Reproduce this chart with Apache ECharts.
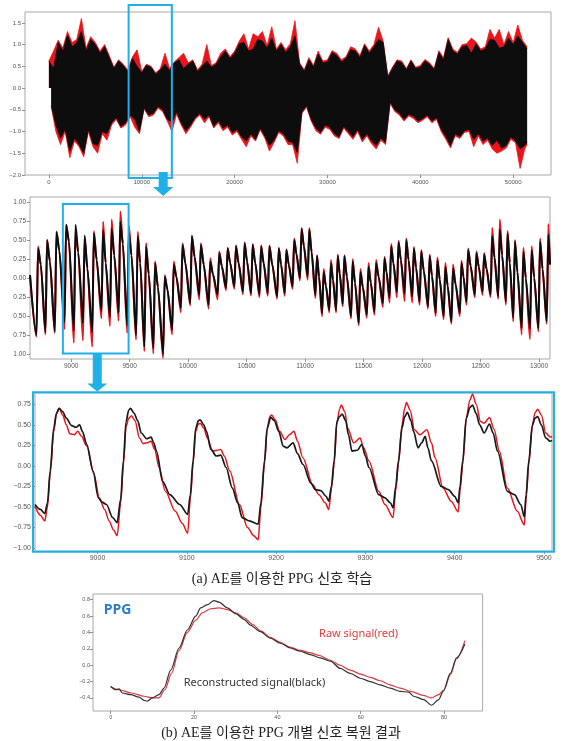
<!DOCTYPE html>
<html><head><meta charset="utf-8">
<script src="https://cdn.jsdelivr.net/npm/echarts@6/dist/echarts.min.js"></script>
<style>html,body{margin:0;padding:0;background:#fff}#c{width:568px;height:741px}</style>
</head><body><div id="c"></div>
<script>
// ---------- Panel 1: full recording, envelope per 500-sample bin ----------
const p1Step = 500;
const p1End = 51500;
const p1BlackHi = [0.62,0.45,1.05,0.85,1.22,0.95,1.05,1.30,0.85,1.12,1.00,0.80,0.95,0.70,0.45,0.62,0.52,0.38,0.68,0.50,
  0.35,0.52,0.48,0.32,0.42,0.55,0.40,0.58,0.65,0.45,0.55,0.62,0.38,0.50,0.62,0.48,0.55,0.72,0.85,0.68,
  0.80,1.02,1.05,0.85,0.90,1.12,1.08,0.92,1.15,0.85,1.00,0.82,0.95,1.20,0.55,0.38,0.65,0.48,0.78,0.58,
  0.60,0.82,0.75,0.60,0.68,0.88,0.85,0.70,0.98,0.80,0.95,1.12,1.05,0.25,0.45,0.62,0.58,0.42,0.62,0.45,
  0.48,0.62,0.55,0.42,0.82,0.65,1.12,0.85,0.78,0.95,0.98,0.80,1.02,0.85,0.90,1.12,1.10,0.92,0.95,1.15,
  1.00,1.20,1.05,0.90];
const p1BlackLo = [-0.40,-0.85,-1.15,-0.95,-1.45,-1.15,-1.30,-1.50,-0.95,-1.28,-1.32,-1.00,-1.05,-0.80,-0.68,-0.88,-0.80,-0.62,-0.72,-1.00,
  -0.45,-0.62,-0.58,-0.42,-0.50,-0.72,-0.78,-0.55,-0.80,-0.98,-0.85,-0.68,-0.58,-0.72,-0.62,-0.88,-0.75,-0.92,-0.85,-1.02,
  -0.95,-1.12,-1.22,-1.05,-1.18,-0.92,-1.10,-1.32,-1.20,-0.98,-1.05,-1.22,-1.25,-1.48,-0.55,-0.40,-0.72,-0.92,-1.02,-0.85,
  -0.90,-1.05,-1.12,-0.88,-1.00,-1.12,-0.95,-1.18,-1.05,-1.22,-1.32,-1.15,-1.25,-0.32,-0.50,-0.58,-0.72,-0.60,-0.65,-0.76,
  -0.70,-0.62,-0.76,-0.68,-0.95,-1.12,-1.32,-1.05,-1.12,-0.98,-0.95,-1.18,-1.05,-1.22,-1.15,-1.32,-1.20,-1.38,-1.32,-1.12,
  -1.22,-1.40,-1.32,-1.25];
const p1RedHi = [0.62,0.85,1.10,0.92,1.30,1.05,1.12,1.60,0.92,1.18,1.05,0.85,1.00,0.75,0.48,0.65,0.55,0.42,0.72,0.88,
  0.38,0.55,0.50,0.35,0.45,0.80,0.45,0.60,0.70,0.80,0.58,0.65,0.42,0.55,1.00,0.52,0.58,0.80,0.90,0.72,
  0.85,1.08,1.25,0.90,1.25,1.18,1.30,0.98,1.41,0.90,1.05,0.88,1.02,1.55,0.58,0.42,0.70,0.52,0.85,0.62,
  0.65,0.86,0.80,0.65,0.72,0.95,0.90,0.75,1.02,0.85,1.00,1.40,1.08,0.28,0.48,0.65,0.62,0.45,0.65,0.48,
  0.52,0.66,0.58,0.45,0.86,0.70,1.16,0.90,0.82,1.00,1.02,1.15,1.06,0.90,0.95,1.35,1.15,1.35,1.00,1.30,
  1.05,1.45,1.10,0.95];
const p1RedLo = [-0.42,-1.00,-1.30,-1.00,-1.60,-1.22,-1.35,-1.58,-1.00,-1.35,-1.50,-1.05,-1.20,-0.85,-0.72,-0.92,-0.85,-0.66,-0.90,-1.05,
  -0.48,-0.66,-0.62,-0.46,-0.54,-0.76,-1.00,-0.60,-0.85,-1.05,-0.90,-0.72,-0.62,-0.80,-0.66,-0.92,-0.80,-0.98,-0.90,-1.08,
  -1.00,-1.18,-1.35,-1.10,-1.22,-0.96,-1.15,-1.45,-1.25,-1.02,-1.10,-1.30,-1.30,-1.73,-0.58,-0.44,-0.76,-0.98,-1.06,-0.90,
  -0.95,-1.10,-1.16,-0.92,-1.05,-1.18,-1.00,-1.24,-1.10,-1.28,-1.40,-1.20,-1.30,-0.35,-0.54,-0.62,-0.76,-0.64,-0.70,-0.80,
  -0.74,-0.66,-0.80,-0.72,-1.00,-1.18,-1.38,-1.10,-1.16,-1.02,-1.00,-1.35,-1.10,-1.30,-1.20,-1.40,-1.50,-1.45,-1.38,-1.18,
  -1.26,-1.85,-1.40,-1.30];
const p1XTicks = [0,10000,20000,30000,40000,50000];
const p1YTicks = [-2.0,-1.5,-1.0,-0.5,0.0,0.5,1.0,1.5];

// ---------- Panel 2: zoom 8650-13100, one entry per beat ----------
const p2Start = [8648, 0.04];
const p2End = [13094, 0.18];
const p2PeakT = [8717,8794,8874,8957,9037,9115,9194,9273,9346,9420,9493,9569,9640,9717,9800,9877,9952,10032,10109,10189,
  10266,10338,10409,10483,10552,10624,10695,10775,10840,10907,10970,11036,11102,11159,11221,11279,11336,11407,11473,11542,
  11607,11679,11736,11799,11865,11930,11993,12065,12131,12199,12265,12337,12394,12465,12531,12600,12665,12731,12794,12866,
  12937,13009,13080];
const p2PeakBlack = [0.39,0.50,0.61,0.70,0.70,0.56,0.59,0.63,0.65,0.74,0.60,0.55,0.42,0.20,0.02,0.18,0.44,0.55,0.44,0.22,
  0.33,0.39,0.42,0.46,0.44,0.42,0.42,0.39,0.37,0.50,0.65,0.64,0.29,0.08,0.20,0.29,0.29,0.22,0.08,0.15,
  0.20,0.26,0.42,0.47,0.50,0.39,0.35,0.29,0.24,0.15,0.13,0.20,0.37,0.33,0.31,0.55,0.64,0.59,0.48,0.35,
  0.37,0.48,0.57];
const p2PeakRed = [0.42,0.50,0.61,0.70,0.61,0.52,0.62,0.74,0.77,0.875,0.69,0.61,0.46,0.22,0.04,0.22,0.46,0.56,0.46,0.26,
  0.35,0.40,0.43,0.47,0.45,0.43,0.43,0.40,0.38,0.52,0.66,0.66,0.30,0.12,0.24,0.31,0.30,0.25,0.12,0.20,
  0.24,0.28,0.45,0.49,0.52,0.41,0.37,0.31,0.27,0.20,0.18,0.23,0.39,0.35,0.33,0.66,0.77,0.62,0.50,0.40,
  0.42,0.52,0.71];
const p2TroughBlack = [-0.75,-0.71,-0.70,-0.58,-0.69,-0.59,-0.71,-0.43,-0.51,-0.45,-0.62,-0.75,-0.90,-0.92,-1.00,-0.68,-0.39,-0.33,-0.22,-0.35,
  -0.22,-0.13,-0.11,-0.18,-0.20,-0.22,-0.20,-0.24,-0.20,-0.11,0.00,0.02,-0.22,-0.46,-0.42,-0.42,-0.34,-0.50,-0.59,-0.48,
  -0.44,-0.33,-0.26,-0.18,-0.20,-0.24,-0.31,-0.37,-0.46,-0.50,-0.57,-0.46,-0.31,-0.22,-0.18,-0.22,-0.24,-0.31,-0.52,-0.66,
  -0.66,-0.66,-0.57];
const p2TroughRed = [-0.77,-0.74,-0.72,-0.67,-0.85,-0.82,-0.90,-0.53,-0.63,-0.56,-0.72,-0.81,-0.96,-0.99,-1.05,-0.74,-0.45,-0.36,-0.28,-0.40,
  -0.28,-0.16,-0.14,-0.21,-0.23,-0.25,-0.23,-0.27,-0.23,-0.14,-0.03,-0.02,-0.26,-0.50,-0.45,-0.45,-0.37,-0.53,-0.62,-0.52,
  -0.48,-0.38,-0.32,-0.25,-0.30,-0.32,-0.35,-0.40,-0.50,-0.54,-0.60,-0.50,-0.35,-0.25,-0.22,-0.25,-0.27,-0.35,-0.57,-0.74,
  -0.80,-0.70,-0.60];
const p2Shoulder = [0.18,0.22,0.36,0.48,0.34,0.13,0.24,0.20,0.30,0.45,0.30,0.20,0.05,-0.12,-0.15,0.02,0.20,0.28,0.18,0.05,
  0.16,0.20,0.20,0.22,0.20,0.20,0.18,0.18,0.18,0.32,0.42,0.34,0.02,-0.10,-0.02,0.06,0.02,-0.06,-0.12,-0.06,
  0.02,0.08,0.20,0.24,0.24,0.14,0.10,0.03,-0.02,-0.10,-0.08,0.02,0.16,0.15,0.12,0.27,0.30,0.20,0.08,0.00,
  0.01,0.12];
const p2XTicks = [9000,9500,10000,10500,11000,11500,12000,12500,13000];
const p2YTicks = [-1.0,-0.75,-0.5,-0.25,0.0,0.25,0.5,0.75,1.0];

// ---------- Panel 3: zoom 8930-9510 ----------
const p3Black = [[8930,-0.47],[8936,-0.53],[8941,-0.58],[8944,-0.45],[8947,-0.06],[8951,0.46],[8954,0.64],[8957,0.70],[8961,0.66],[8965,0.58],
  [8971,0.49],[8976,0.47],[8980,0.50],[8983,0.42],[8988,0.26],[8995,-0.06],[9001,-0.39],[9005,-0.44],[9010,-0.47],[9017,-0.63],
  [9022,-0.69],[9026,-0.40],[9029,0.06],[9032,0.54],[9035,0.68],[9037,0.70],[9041,0.64],[9045,0.55],[9049,0.40],[9055,0.33],
  [9060,0.35],[9063,0.28],[9066,0.18],[9073,-0.19],[9081,-0.35],[9092,-0.47],[9101,-0.59],[9104,-0.35],[9107,0.06],[9110,0.46],
  [9113,0.55],[9115,0.56],[9119,0.50],[9122,0.42],[9127,0.20],[9133,0.12],[9138,0.13],[9144,-0.02],[9151,-0.27],[9157,-0.45],
  [9162,-0.63],[9170,-0.67],[9180,-0.71],[9183,-0.45],[9187,0.06],[9190,0.46],[9194,0.59],[9198,0.55],[9203,0.42],[9208,0.24],
  [9212,0.22],[9219,0.28],[9224,0.15],[9230,0.02],[9239,-0.21],[9244,-0.29],[9250,-0.30],[9256,-0.37],[9259,-0.43],[9262,-0.25],
  [9265,0.06],[9268,0.54],[9271,0.60],[9274,0.63],[9278,0.55],[9281,0.38],[9285,0.18],[9291,0.19],[9296,0.26],[9300,0.12],
  [9304,-0.02],[9315,-0.35],[9322,-0.39],[9328,-0.45],[9331,-0.51],[9334,-0.25],[9337,0.06],[9341,0.46],[9344,0.60],[9347,0.65],
  [9351,0.55],[9354,0.42],[9359,0.22],[9363,0.28],[9367,0.36],[9370,0.22],[9374,0.06],[9385,-0.25],[9393,-0.29],[9400,-0.37],
  [9404,-0.45],[9406,-0.25],[9409,0.06],[9413,0.58],[9417,0.71],[9420,0.74],[9424,0.64],[9428,0.50],[9433,0.40],[9439,0.51],
  [9443,0.40],[9448,0.18],[9459,-0.31],[9467,-0.35],[9474,-0.47],[9478,-0.62],[9480,-0.35],[9483,0.06],[9487,0.50],[9490,0.58],
  [9493,0.60],[9497,0.50],[9502,0.34],[9507,0.30],[9509,0.31]];
const p3Red = [[8930,-0.49],[8936,-0.60],[8941,-0.67],[8944,-0.50],[8947,-0.10],[8951,0.42],[8954,0.63],[8957,0.70],[8961,0.62],[8965,0.50],
  [8969,0.39],[8974,0.38],[8978,0.42],[8982,0.36],[8988,0.24],[8996,-0.10],[9002,-0.39],[9008,-0.53],[9013,-0.67],[9018,-0.78],
  [9022,-0.85],[9026,-0.45],[9029,0.02],[9032,0.48],[9035,0.58],[9038,0.61],[9042,0.55],[9047,0.34],[9051,0.27],[9055,0.28],
  [9060,0.30],[9064,0.20],[9069,-0.02],[9076,-0.31],[9087,-0.55],[9095,-0.70],[9101,-0.82],[9104,-0.40],[9107,0.02],[9110,0.42],
  [9113,0.51],[9115,0.52],[9119,0.46],[9123,0.34],[9129,0.18],[9134,0.19],[9138,0.20],[9142,0.12],[9148,-0.06],[9159,-0.47],
  [9168,-0.75],[9175,-0.85],[9180,-0.90],[9183,-0.50],[9187,0.02],[9190,0.44],[9193,0.60],[9195,0.62],[9199,0.56],[9204,0.42],
  [9210,0.32],[9215,0.38],[9220,0.42],[9224,0.30],[9230,0.10],[9241,-0.23],[9248,-0.35],[9255,-0.45],[9259,-0.53],[9262,-0.28],
  [9265,0.02],[9268,0.50],[9271,0.69],[9273,0.74],[9277,0.66],[9280,0.46],[9287,0.28],[9294,0.34],[9298,0.22],[9304,0.06],
  [9315,-0.31],[9322,-0.47],[9331,-0.63],[9334,-0.30],[9337,0.02],[9341,0.50],[9344,0.70],[9346,0.77],[9350,0.68],[9355,0.44],
  [9361,0.38],[9369,0.44],[9374,0.28],[9378,0.10],[9387,-0.27],[9396,-0.43],[9404,-0.56],[9406,-0.30],[9409,0.02],[9413,0.58],
  [9417,0.80],[9420,0.875],[9424,0.75],[9429,0.54],[9433,0.52],[9439,0.59],[9444,0.45],[9450,0.18],[9459,-0.27],[9470,-0.55],
  [9478,-0.72],[9480,-0.40],[9483,0.02],[9487,0.48],[9490,0.65],[9493,0.69],[9497,0.62],[9502,0.40],[9507,0.35],[9509,0.36]];
const p3XTicks = [9000,9100,9200,9300,9400,9500];
const p3YTicks = [-1.0,-0.75,-0.5,-0.25,0.0,0.25,0.5,0.75];

// ---------- Panel 4: single beat reconstruction ----------
const p4Black = [[0,-0.26],[1.2,-0.30],[2,-0.29],[2.8,-0.34],[4.8,-0.36],[6.8,-0.39],[8,-0.43],[8.8,-0.44],[10,-0.40],[11.6,-0.36],
  [12.8,-0.28],[14.4,-0.06],[16.4,0.21],[18.4,0.43],[20.4,0.60],[21.6,0.70],[23.2,0.74],[24.8,0.79],[26,0.77],[28,0.70],
  [30,0.63],[32,0.56],[33.5,0.49],[35.9,0.41],[38.3,0.33],[40.7,0.27],[43.1,0.21],[45.5,0.17],[47.9,0.13],[50.3,0.09],
  [52.7,0.05],[55.1,-0.04],[57.5,-0.10],[59.9,-0.16],[62.3,-0.20],[64.7,-0.24],[67.1,-0.28],[69.5,-0.32],[71.5,-0.33],[72.7,-0.38],
  [75.1,-0.42],[77,-0.49],[78.7,-0.42],[79.8,-0.32],[81.5,-0.10],[83,0.09],[85,0.26]];
const p4Red = [[0,-0.26],[2,-0.30],[5,-0.34],[8,-0.38],[10,-0.40],[11.6,-0.40],[13,-0.30],[14.6,-0.10],[16.4,0.18],[18.4,0.40],
  [20.4,0.55],[22,0.64],[24,0.69],[26,0.70],[28,0.68],[30,0.64],[32,0.58],[34,0.50],[36,0.42],[38.3,0.34],
  [40.7,0.28],[43,0.22],[45.5,0.18],[48,0.15],[50,0.12],[52.7,0.06],[55,0.00],[57.5,-0.06],[60,-0.11],[62.3,-0.15],
  [64.7,-0.19],[67,-0.24],[69.5,-0.28],[72,-0.32],[75,-0.37],[77,-0.40],[78.7,-0.36],[80,-0.30],[81.5,-0.12],[83,0.08],[85,0.30]];
const p4XTicks = [0,20,40,60,80];
const p4YTicks = [-0.4,-0.2,0.0,0.2,0.4,0.6,0.8];

// ---------- build series data ----------
function envelope(vals, offset){
  return vals.map((v, k) => [Math.min(k * p1Step + offset, p1End), v]);
}
function beats(peak, trough){
  const out = [p2Start.slice()];
  for (let i = 0; i < p2PeakT.length; i++){
    out.push([p2PeakT[i] - 14, trough[i]]);
    out.push([p2PeakT[i], peak[i]]);
    if (i < p2PeakT.length - 1){
      out.push([p2PeakT[i] + 0.3*(p2PeakT[i+1]-p2PeakT[i]), p2Shoulder[i]]);
    }
  }
  out.push(p2End.slice());
  return out;
}
const MINUS = '\u2212';
const fmt = d => v => (v < 0 ? MINUS : '') + Math.abs(v).toFixed(d);
const RED = '#e8161c', BLACK = '#0d0d0d', BLUE = '#1eb0e6';
const tickFont = 'Liberation Sans';

function axis(g, min, max, ticks, f, fs, margin){
  return {type:'value', gridIndex:g, min, max, axisLine:{show:false, onZero:false}, splitLine:{show:false},
    axisTick:{show:true, length:3, lineStyle:{color:'#777', width:0.8}, customValues:ticks},
    axisLabel:{customValues:ticks, formatter:f, fontSize:fs, color:'#555', margin:margin, fontFamily:tickFont}};
}
function line(g, data, color, w, smooth, z, area){
  const s = {type:'line', xAxisIndex:g, yAxisIndex:g, data, showSymbol:false, symbol:'none', smooth:smooth,
    smoothMonotone:'x', lineStyle:{color, width:w}, silent:true, z:z, animation:false};
  if (area) s.areaStyle = {color, opacity:1, origin:0};
  return s;
}

const chart = echarts.init(document.getElementById('c'), null, {renderer:'canvas'});
const gridStyle = {show:true, borderColor:'#a8a8a8', borderWidth:1, backgroundColor:'transparent'};
chart.setOption({
  animation:false,
  backgroundColor:'#fff',
  grid:[
    Object.assign({left:25, right:17, top:12, bottom:566}, gridStyle),
    Object.assign({left:30, right:18, top:197, bottom:382}, gridStyle),
    Object.assign({left:35, right:16, top:393, bottom:190}, gridStyle),
    Object.assign({left:93, right:85.4, top:594, bottom:30}, gridStyle)
  ],
  xAxis:[
    axis(0, -2575, 54075, p1XTicks, v => String(v), 6, 4),
    axis(1, 8648, 13094, p2XTicks, v => String(v), 6.5, 4),
    axis(2, 8930, 9509, p3XTicks, v => String(v), 7, 4),
    axis(3, -4.25, 89.25, p4XTicks, v => String(v), 5.5, 3)
  ],
  yAxis:[
    axis(0, -2.0, 1.75, p1YTicks, fmt(1), 6, 4),
    axis(1, -1.062, 1.066, p2YTicks, v => Math.abs(v).toFixed(2), 6.5, 4),
    axis(2, -1.036, 0.887, p3YTicks, fmt(2), 7, 4),
    axis(3, -0.56, 0.87, p4YTicks, fmt(1), 5.5, 3)
  ],
  series:[
    line(0, envelope(p1RedHi, 0), RED, 0.8, false, 2, true),
    line(0, envelope(p1RedLo, 250), RED, 0.8, false, 2, true),
    line(0, envelope(p1BlackHi, 0), BLACK, 0.8, false, 3, true),
    line(0, envelope(p1BlackLo, 250), BLACK, 0.8, false, 3, true),
    line(1, beats(p2PeakRed, p2TroughRed), RED, 2, 0.25, 2),
    line(1, beats(p2PeakBlack, p2TroughBlack), BLACK, 2, 0.25, 3),
    line(2, p3Red, RED, 1.5, 0.3, 2),
    line(2, p3Black, '#1a1a1a', 1.7, 0.3, 3),
    line(3, p4Red, '#e03a3e', 1.2, 0.3, 2),
    line(3, p4Black, '#333', 1.2, 0.3, 3)
  ]
});

// ---------- annotations (blue boxes, arrows, texts) ----------
const px = (g, x, y) => chart.convertToPixel({gridIndex:g}, [x, y]);
function box(g, x0, x1, y0, y1){
  const a = px(g, x0, y1), b = px(g, x1, y0);
  return {type:'rect', shape:{x:a[0], y:a[1], width:b[0]-a[0], height:b[1]-a[1]},
    style:{fill:null, stroke:BLUE, lineWidth:2}, z:50};
}
function arrow(cx, top, headTop, tip){
  return {type:'polygon', shape:{points:[[cx-4.5,top],[cx+4.5,top],[cx+4.5,headTop],[cx+10,headTop],[cx,tip],[cx-10,headTop],[cx-4.5,headTop]]},
    style:{fill:BLUE}, z:51};
}
function txt(x, y, text, font, color, align){
  return {type:'text', x, y, style:{text, font, fill:color, align:align||'left', verticalAlign:'middle'}, z:60};
}
const a1 = px(0, 12310, -2.0);
const a2 = px(1, 9223, -0.99);
const t1 = px(3, -1.7, 0.68), t2 = px(3, 50, 0.38), t3 = px(3, 17.5, -0.22);
chart.setOption({graphic:[
  box(0, 8584, 13240, -2.07, 1.91),
  box(1, 8929, 9491, -0.99, 0.974),
  box(2, 8927.8, 9511.2, -1.045, 0.895),
  arrow(a1[0], a1[1]-3, a1[1]+12, a1[1]+21),
  arrow(a2[0], a2[1], a2[1]+30, a2[1]+38),
  txt(t1[0], t1[1], 'PPG', 'bold 14px "Open Sans", "Noto Sans", sans-serif', '#2a7cc4'),
  txt(t2[0], t2[1], 'Raw signal(red)', '11px "Noto Sans", sans-serif', '#e8383d'),
  txt(t3[0], t3[1], 'Reconstructed signal(black)', '11px "Noto Sans", sans-serif', '#333'),
  txt(282, 579, '(a) AE를 이용한 PPG 신호 학습', '14px "Liberation Serif", "Noto Sans CJK KR", serif', '#222', 'center'),
  txt(281, 733, '(b) AE를 이용한 PPG 개별 신호 복원 결과', '14px "Liberation Serif", "Noto Sans CJK KR", serif', '#222', 'center')
]});
</script>
</body></html>
